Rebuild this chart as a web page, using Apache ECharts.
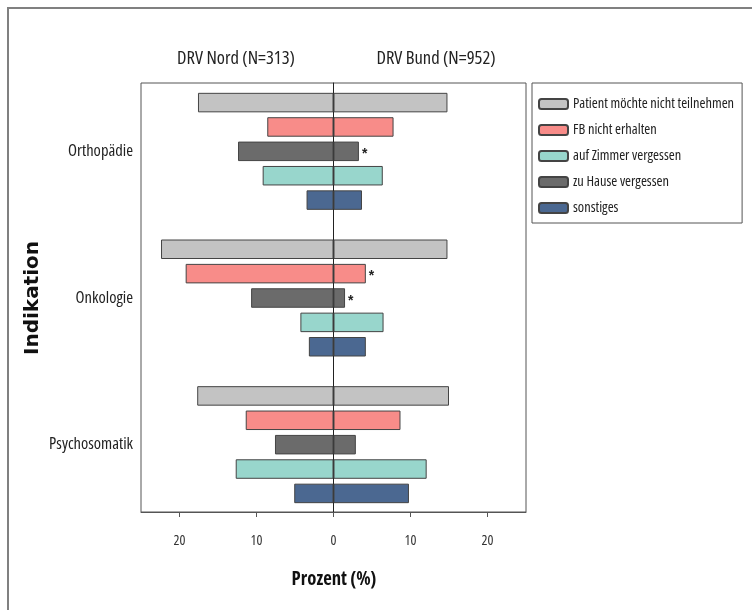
<!DOCTYPE html>
<html><head><meta charset="utf-8">
<script src="https://cdn.jsdelivr.net/npm/echarts@6/dist/echarts.min.js"></script>
<style>html,body{margin:0;padding:0;background:#fff}#c{width:752px;height:610px}</style>
</head><body><div id="c"></div>
<script>
// ---- data ----
const indications = ['Orthopädie', 'Onkologie', 'Psychosomatik'];
// bar order top to bottom within each indication
const reasons = ['Patient möchte nicht teilnehmen', 'FB nicht erhalten', 'zu Hause vergessen', 'auf Zimmer vergessen', 'sonstiges'];
const legendOrder = ['Patient möchte nicht teilnehmen', 'FB nicht erhalten', 'auf Zimmer vergessen', 'zu Hause vergessen', 'sonstiges'];
// DRV Nord (left side), percent per indication
const nordPatient = [17.6, 22.4, 17.7];
const nordFB = [8.6, 19.2, 11.4];
const nordHause = [12.4, 10.7, 7.6];
const nordZimmer = [9.2, 4.3, 12.7];
const nordSonst = [3.5, 3.2, 5.1];
// DRV Bund (right side)
const bundPatient = [14.8, 14.8, 15.0];
const bundFB = [7.8, 4.2, 8.7];
const bundHause = [3.3, 1.5, 2.9];
const bundZimmer = [6.4, 6.5, 12.1];
const bundSonst = [3.7, 4.2, 9.8];
// significance markers on DRV Bund bars
const starPatient = [false, false, false];
const starFB = [false, true, false];
const starHause = [true, true, false];
const starZimmer = [false, false, false];
const starSonst = [false, false, false];
const xTicks = [-20, -10, 0, 10, 20];

const nord = [nordPatient, nordFB, nordHause, nordZimmer, nordSonst];
const bund = [bundPatient, bundFB, bundHause, bundZimmer, bundSonst];
const stars = [starPatient, starFB, starHause, starZimmer, starSonst];
const colors = ['#c3c3c3', '#f88c89', '#6b6b6b', '#98d6cc', '#4b6891'];

const FONT = "'Open Sans', sans-serif";
const COND = 'condensed';

const series = [];
reasons.forEach((name, r) => {
  const style = { color: colors[r], borderColor: '#444', borderWidth: 1 };
  series.push({
    name, type: 'bar', stack: 's' + r, xAxisIndex: 0, yAxisIndex: 0,
    barWidth: 19.5, barGap: '25%', itemStyle: style,
    data: nord[r].map(v => -v)
  });
  series.push({
    name, type: 'bar', stack: 's' + r, xAxisIndex: 0, yAxisIndex: 0,
    barWidth: 19.5, barGap: '25%', itemStyle: style,
    data: bund[r].map((v, i) => stars[r][i] ? {
      value: v,
      label: { show: true, position: 'right', formatter: '*', distance: 3, offset: [0, 3],
               fontSize: 14, fontWeight: 'bold', color: '#222', fontFamily: "'Liberation Sans', sans-serif" }
    } : v)
  });
});

const chart = echarts.init(document.getElementById('c'), null, { renderer: 'canvas' });
chart.setOption({
  animation: false,
  backgroundColor: '#fff',
  grid: [
    { left: 141, top: 78, width: 385, height: 440, show: false },
    { left: 141, top: 83, width: 385, height: 429, show: true, borderColor: '#555', borderWidth: 1, backgroundColor: 'transparent' }
  ],
  xAxis: [
    { gridIndex: 0, type: 'value', min: -25, max: 25, show: false },
    { gridIndex: 1, type: 'value', min: -25, max: 25,
      axisLine: { show: true, onZero: false, lineStyle: { color: '#555', width: 1 } },
      axisTick: { show: true, length: 5, customValues: xTicks, lineStyle: { color: '#555' } },
      axisLabel: { customValues: xTicks, formatter: v => String(Math.abs(v)), margin: 22,
                   fontSize: 14, fontStyle: COND, color: '#333', fontFamily: FONT },
      splitLine: { show: false } }
  ],
  yAxis: [
    { gridIndex: 0, type: 'category', data: indications, inverse: true,
      axisLine: { show: false }, axisTick: { show: false },
      axisLabel: { margin: 8, fontSize: 16.5, fontStyle: COND, color: '#222', fontFamily: FONT, padding: [3, 0, 0, 0] } },
    { gridIndex: 1, type: 'category', data: [''],
      axisLine: { show: true, onZero: true, lineStyle: { color: '#222', width: 1 } },
      axisTick: { show: false }, axisLabel: { show: false }, splitLine: { show: false } }
  ],
  legend: {
    orient: 'vertical', left: 532, top: 83,
    data: legendOrder,
    itemWidth: 29, itemHeight: 10, itemGap: 12,
    padding: [14, 8, 8, 6],
    borderColor: '#555', borderWidth: 1, backgroundColor: '#fff',
    textStyle: { fontSize: 14.4, fontStyle: COND, color: '#222', fontFamily: FONT },
    selectedMode: false
  },
  graphic: [
    { type: 'line', shape: { x1: 8, y1: 7, x2: 8, y2: 610 }, style: { stroke: '#808080', lineWidth: 2 } },
    { type: 'line', shape: { x1: 7, y1: 8, x2: 752, y2: 8 }, style: { stroke: '#808080', lineWidth: 2 } },
    { type: 'text', x: 236, y: 59, style: { text: 'DRV Nord (N=313)', font: COND + ' 18.5px ' + FONT, fill: '#222', align: 'center', verticalAlign: 'middle' } },
    { type: 'text', x: 436, y: 59, style: { text: 'DRV Bund (N=952)', font: COND + ' 18.5px ' + FONT, fill: '#222', align: 'center', verticalAlign: 'middle' } },
    { type: 'text', x: 334, y: 580, style: { text: 'Prozent (%)', font: COND + ' bold 18.7px ' + FONT, fill: '#111', align: 'center', verticalAlign: 'middle' } },
    { type: 'text', x: 33, y: 298, rotation: Math.PI / 2, style: { text: 'Indikation', font: 'bold 20px "DejaVu Sans", sans-serif', fill: '#111', align: 'center', verticalAlign: 'middle' } }
  ],
  series
});
</script></body></html>
